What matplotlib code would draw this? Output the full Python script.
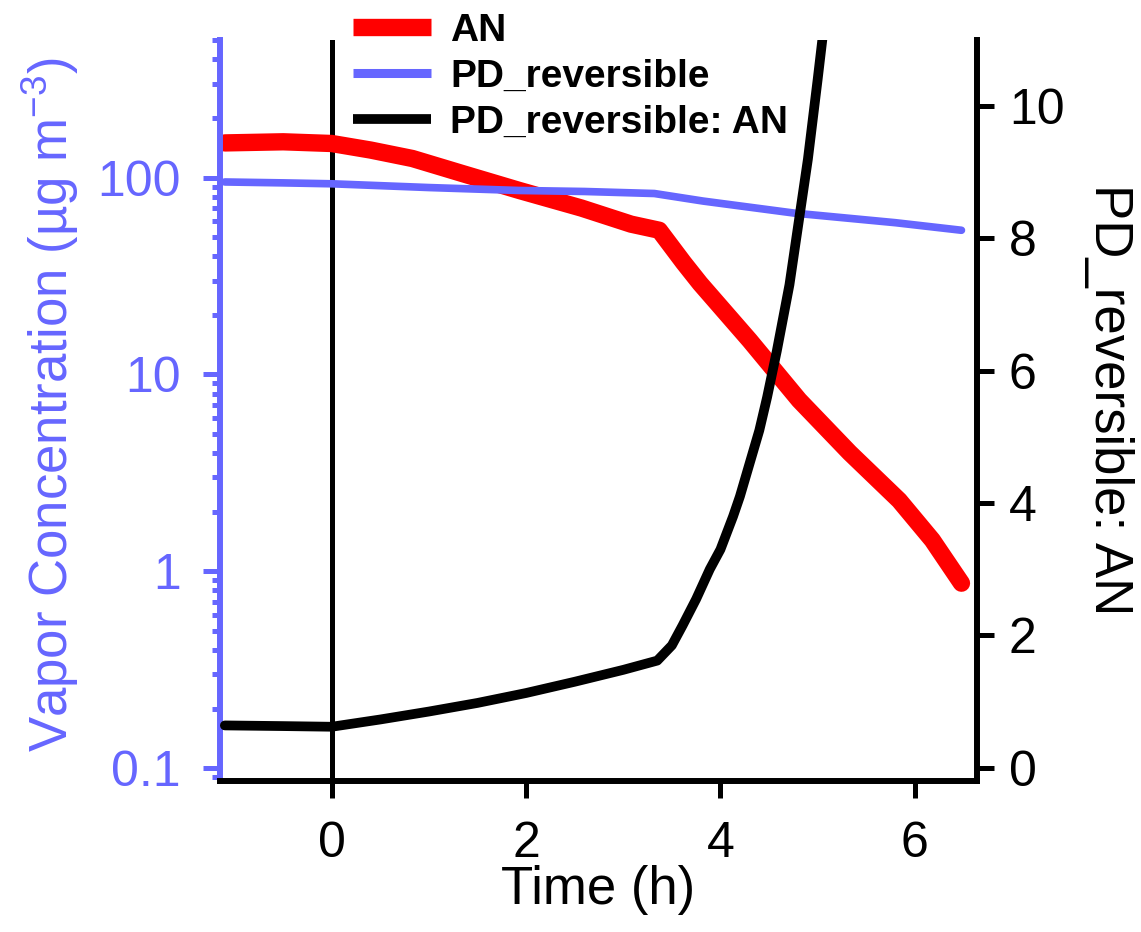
import matplotlib
matplotlib.use("Agg")
import matplotlib.pyplot as plt
from matplotlib.ticker import LogLocator, FixedLocator, NullFormatter
from matplotlib.lines import Line2D

plt.rcParams['font.family'] = ['Liberation Sans', 'DejaVu Sans']
plt.rcParams['mathtext.default'] = 'regular'

# ---- data ----
an_time = [-1.1, -0.5, 0.0, 0.4, 0.83, 1.34, 1.93, 2.57, 3.08, 3.37, 3.62, 3.79,
           4.30, 4.81, 5.33, 5.84, 6.18, 6.48]
an_conc = [150, 152, 149, 138, 125, 105, 86, 70, 58, 54, 37, 29,
           14.9, 7.4, 4.0, 2.29, 1.44, 0.87]

pd_time = [-1.1, -0.5, 0.0, 1.0, 1.93, 2.6, 3.32, 3.82, 4.76, 5.8, 6.48]
pd_conc = [95, 94, 93, 89, 86, 85, 83, 76, 66, 59, 54]

ratio_time = [-1.1, -0.5, 0.0, 0.5, 1.0, 1.5, 2.0, 2.5, 3.0, 3.35, 3.5, 3.61, 3.75,
              3.89, 4.0, 4.13, 4.2, 4.3, 4.4, 4.48, 4.58, 4.71, 4.81, 4.9, 5.0, 5.08]
ratio_val = [0.64, 0.63, 0.62, 0.73, 0.85, 0.98, 1.13, 1.3, 1.48, 1.62, 1.85, 2.15, 2.55,
             3.0, 3.3, 3.8, 4.1, 4.6, 5.1, 5.6, 6.3, 7.3, 8.3, 9.2, 10.4, 11.4]

series_labels = ["AN", "PD_reversible", "PD_reversible: AN"]
x_ticks = [0, 2, 4, 6]
left_ticks = [0.1, 1, 10, 100]
left_tick_labels = ["0.1", "1", "10", "100"]
right_ticks = [0, 2, 4, 6, 8, 10]

BLUE = "#6666FF"
RED = "#FF0000"
W, H = 1141, 932

fig = plt.figure(figsize=(W / 100, H / 100), dpi=100)
ax = fig.add_axes([220 / W, 1 - 781 / H, (977 - 220) / W, (781 - 40) / H])
ax2 = ax.twinx()

ax.axvline(0, color="black", lw=3.6, zorder=1)
l1, = ax.plot(an_time, an_conc, color=RED, lw=12.5, solid_capstyle="round",
              solid_joinstyle="round", zorder=2, label=series_labels[0])
l2, = ax.plot(pd_time, pd_conc, color=BLUE, lw=5.5, solid_capstyle="round",
              solid_joinstyle="round", zorder=3, label=series_labels[1])
l3, = ax2.plot(ratio_time, ratio_val, color="black", lw=7, solid_capstyle="round",
               solid_joinstyle="round", zorder=4, label=series_labels[2])

ax.set_yscale("log")
ax.set_xlim(-1.15, 6.64)
ax.set_ylim(0.086, 500)
ax2.set_ylim(-0.2, 11)

spw = 4.3
for a in (ax, ax2):
    a.spines["top"].set_visible(False)
    a.patch.set_visible(False)
ax.spines["right"].set_visible(False)
ax2.spines["left"].set_visible(False)
ax2.spines["bottom"].set_visible(False)
ax.spines["left"].set_color(BLUE)
ax.spines["left"].set_linewidth(spw)
ax.spines["bottom"].set_linewidth(spw)
ax2.spines["right"].set_linewidth(spw)

ax.set_xticks(x_ticks)
ax.set_xticklabels([str(t) for t in x_ticks])
ax.yaxis.set_major_locator(FixedLocator(left_ticks))
ax.set_yticklabels(left_tick_labels)
ax.yaxis.set_minor_locator(LogLocator(base=10, subs=range(2, 10)))
ax.yaxis.set_minor_formatter(NullFormatter())
ax2.set_yticks(right_ticks)
ax2.set_yticklabels([str(t) for t in right_ticks])

ax.tick_params(axis="x", which="major", direction="out", length=12, width=3.6,
               labelsize=36, pad=17, colors="black")
ax.tick_params(axis="y", which="major", direction="out", length=12, width=3.6,
               labelsize=36, pad=16, colors=BLUE)
ax.tick_params(axis="y", which="minor", direction="out", length=6, width=3.6, colors=BLUE)
ax2.tick_params(axis="y", which="major", direction="out", length=12, width=3.6,
                labelsize=36, pad=11, colors="black")

fig.text(50 / W, 1 - 405 / H, r"Vapor Concentration (µg m$^{-3}$)", color=BLUE,
         fontsize=38, rotation=90, ha="center", va="center")
fig.text(1109 / W, 1 - 400 / H, "PD_reversible: AN", color="black",
         fontsize=38, rotation=-90, ha="center", va="center")
fig.text(598 / W, 1 - 890 / H, "Time (h)", color="black",
         fontsize=38, ha="center", va="center")

proxies = [Line2D([], [], color=RED, lw=12.5, solid_capstyle="butt"),
           Line2D([], [], color=BLUE, lw=6.5, solid_capstyle="butt"),
           Line2D([], [], color="black", lw=7, solid_capstyle="butt")]
fig.legend(handles=proxies, labels=series_labels, loc="upper left",
           bbox_to_anchor=(353 / W, 1 - 13 / H),
           frameon=False, prop={"weight": "bold", "size": 28}, handlelength=2.0,
           handletextpad=0.5, labelspacing=0.25, borderpad=0, borderaxespad=0)

fig.savefig("out.png", dpi=100)
